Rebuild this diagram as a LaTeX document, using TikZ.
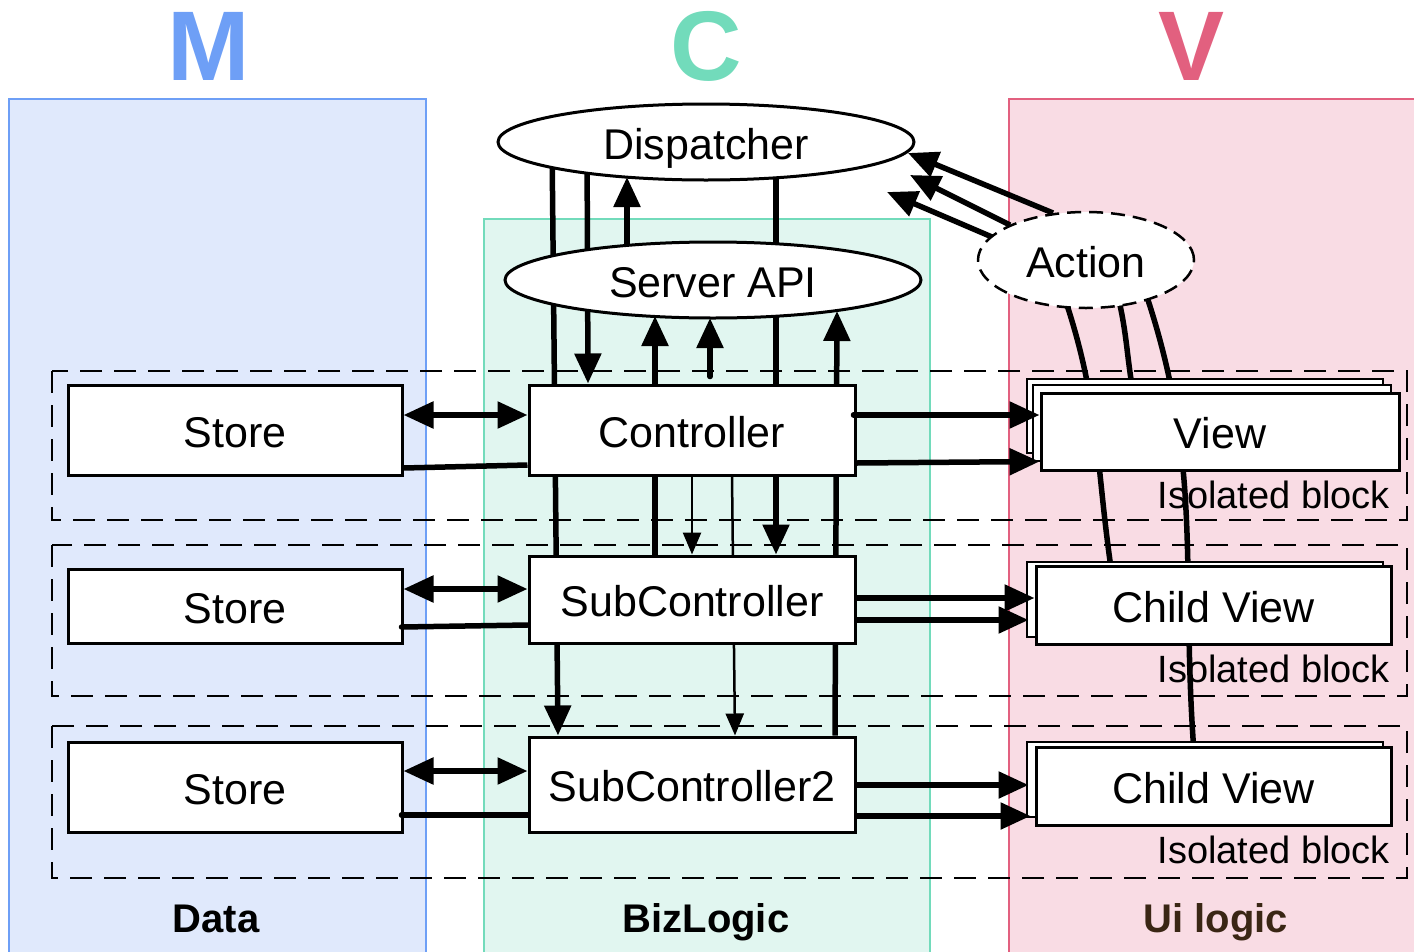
\documentclass[tikz,border=0pt]{standalone}
\usepackage{fontspec}
\setmainfont{Liberation Sans}
\usetikzlibrary{arrows.meta,shapes.geometric,calc}
\pgfdeclarelayer{bg}
\pgfdeclarelayer{edges}
\pgfsetlayers{bg,edges,main}
\definecolor{mblue}{HTML}{6E9FF6}
\definecolor{mfill}{HTML}{E0E9FC}
\definecolor{cgreen}{HTML}{72DBBB}
\definecolor{cfill}{HTML}{E1F6F0}
\definecolor{vpink}{HTML}{E2607F}
\definecolor{vfill}{HTML}{F9DCE4}
\definecolor{uibrown}{HTML}{3A2614}
\begin{document}
\begin{tikzpicture}[x=1pt,y=-1pt,
  nbox/.style={draw=black, line width=3pt, fill=white, rectangle, inner sep=0pt, text height=34pt, text depth=0pt, font=\fontsize{43}{48}\selectfont},
  noval/.style={draw=black, line width=3pt, fill=white, ellipse, inner sep=0pt, text height=34pt, text depth=0pt, font=\fontsize{43}{48}\selectfont},
  isolabel/.style={anchor=base east, inner sep=0pt, font=\fontsize{38}{44}\selectfont},
  bigletter/.style={anchor=base, inner sep=0pt, font=\fontsize{99}{100}\selectfont\bfseries},
  footlabel/.style={anchor=base, inner sep=0pt, font=\fontsize{40}{44}\selectfont\bfseries},
  rowbox/.style={draw=black, line width=2.5pt, dash pattern=on 22pt off 12pt},
  thk/.style={line width=5.5pt},
  thn/.style={line width=2.5pt},
  arr/.style={-{Triangle[length=30pt,width=26pt]}},
  darr/.style={{Triangle[length=30pt,width=26pt]}-{Triangle[length=30pt,width=26pt]}},
  sarr/.style={-{Triangle[length=22pt,width=18pt]}},
]
\useasboundingbox (0,0) rectangle (1414,951);

% columns and isolated rows
\begin{pgfonlayer}{bg}
\draw[mblue, fill=mfill, line width=2.5pt] (9,99) rectangle (426,956);
\draw[cgreen, fill=cfill, line width=2.5pt] (484,219) rectangle (930,956);
\draw[vpink, fill=vfill, line width=2.5pt] (1009,99) rectangle (1420,956);
\draw[rowbox] (52,371) rectangle (1407,520);
\draw[rowbox] (52,545) rectangle (1407,696);
\draw[rowbox] (52,726) rectangle (1407,878);
\end{pgfonlayer}

% headings and footers
\node[bigletter, text=mblue] (M) at (209,80) {M};
\node[bigletter, text=cgreen] (C) at (706,80) {C};
\node[bigletter, text=vpink] (V) at (1192,80) {V};
\node[footlabel] (data) at (216,932) {Data};
\node[footlabel] (biz) at (706,932) {BizLogic};
\node[footlabel, text=uibrown] (ui) at (1216,932) {Ui logic};

% nodes
\node[noval, minimum width=416pt, minimum height=76pt] (disp) at (706,142) {Dispatcher};
\node[noval, minimum width=416pt, minimum height=76pt] (api) at (713,280) {Server API};
\node[noval, line width=2.5pt, dash pattern=on 14pt off 8pt, minimum width=216pt, minimum height=96pt] (action) at (1086,260) {Action};

\node[nbox, minimum width=334pt, minimum height=90pt] (store1) at (235,430) {Store};
\node[nbox, minimum width=334pt, minimum height=74pt] (store2) at (235,606) {Store};
\node[nbox, minimum width=334pt, minimum height=90pt] (store3) at (235,787) {Store};

\node[nbox, minimum width=326pt, minimum height=90pt] (ctrl) at (692,430) {Controller};
\node[nbox, minimum width=326pt, minimum height=87pt] (sub) at (692,599.5) {SubController};
\node[nbox, minimum width=326pt, minimum height=95pt] (sub2) at (692,784.5) {SubController2};

\node[nbox, line width=2.5pt, minimum width=356pt, minimum height=74pt] (viewb1) at (1205,416) {};
\node[nbox, line width=2.5pt, minimum width=358pt, minimum height=76pt] (viewb2) at (1212,423) {};
\node[nbox, minimum width=358pt, minimum height=77pt] (view) at (1220,431.5) {View};

\node[nbox, line width=2.5pt, minimum width=356pt, minimum height=75pt] (child1b) at (1205,599.5) {};
\node[nbox, minimum width=355pt, minimum height=78pt] (child1) at (1213.5,605) {Child View};

\node[nbox, line width=2.5pt, minimum width=356pt, minimum height=75pt] (child2b) at (1205,779.5) {};
\node[nbox, minimum width=355pt, minimum height=78pt] (child2) at (1213.5,786) {Child View};

\node[isolabel] (iso1) at (1390,508) {Isolated block};
\node[isolabel] (iso2) at (1390,682) {Isolated block};
\node[isolabel] (iso3) at (1390,863) {Isolated block};

% connectors behind nodes
\begin{pgfonlayer}{edges}
\draw[thk,arr] ($(disp.center)+(-119,0)$) -- ($(ctrl.north)+(-104,0)$);
\draw[thk,arr] ($(disp.center)+(70,0)$) -- ($(sub.north)+(84,0)$);
\draw[thk,arr] ($(disp.center)+(-154,0)$) -- ($(sub2.north)+(-134,0)$);
\draw[thk,arr] ($(api.center)+(-86,0)$) -- ($(disp.center)+(-79,35)$);
\draw[thk,arr,line cap=round] ($(ctrl.north)+(18,-7)$) -- ($(api.center)+(-3,38)$);
\draw[thk,arr] ($(sub.north)+(-37,0)$) -- ($(api.center)+(-58,36)$);
\draw[thk,arr] ($(sub2.north)+(143,0)$) -- ($(api.center)+(124,31)$);
\draw[thn,sarr] (ctrl.south) -- (sub.north);
\draw[thn,sarr] ($(ctrl.south)+(40,0)$) -- ($(sub2.north)+(43,0)$);
\draw[thk,arr] ($(action.center)+(-33,-47)$) -- ($(disp.center)+(202,11)$);
\draw[thk,arr] ($(action.center)+(-76,-35)$) -- ($(disp.center)+(204,33)$);
\draw[thk,arr] ($(action.center)+(-94,-23)$) -- ($(disp.center)+(181,50)$);
\draw[thk] ($(action.center)+(-19,45)$) to[out=-72,in=98] ($(child1.north)+(-103,0)$);
\draw[thk] ($(action.center)+(34,45)$) to[out=-78,in=100] ($(view.north)+(-87,0)$);
\draw[thk] ($(action.center)+(62,40)$) to[out=-72,in=94] ($(child2.north)+(-20,0)$);
\end{pgfonlayer}

% horizontal connectors
\draw[thk,darr] ($(store1.east)+(0,-15)$) -- ($(ctrl.west)+(0,-15)$);
\draw[thk] ($(ctrl.west)+(0,35)$) -- ($(store1.east)+(0,38)$);
\draw[thk,darr] ($(store2.east)+(0,-17)$) -- ($(sub.west)+(0,-10.5)$);
\draw[thk,line cap=round] ($(sub.west)+(0,25.5)$) -- ($(store2.east)+(-2,21)$);
\draw[thk,darr] ($(store3.east)+(0,-16)$) -- ($(sub2.west)+(0,-13.5)$);
\draw[thk,line cap=round] ($(sub2.west)+(0,30.5)$) -- ($(store3.east)+(-2,28)$);

\draw[thk,arr,line cap=round] ($(ctrl.east)+(-3,-15)$) -- ($(view.west)+(0,-16.5)$);
\draw[thk,arr] ($(ctrl.east)+(0,33)$) -- ($(view.west)+(0,30)$);
\draw[thk,arr] ($(sub.east)+(0,-1.5)$) -- ($(child1.west)+(0,-7)$);
\draw[thk,arr] ($(sub.east)+(0,20.5)$) -- ($(child1.west)+(-6,15)$);
\draw[thk,arr] ($(sub2.east)+(0,0.5)$) -- ($(child2.west)+(-6,-1)$);
\draw[thk,arr] ($(sub2.east)+(0,31.5)$) -- ($(child2.west)+(-4,30)$);
\end{tikzpicture}
\end{document}
